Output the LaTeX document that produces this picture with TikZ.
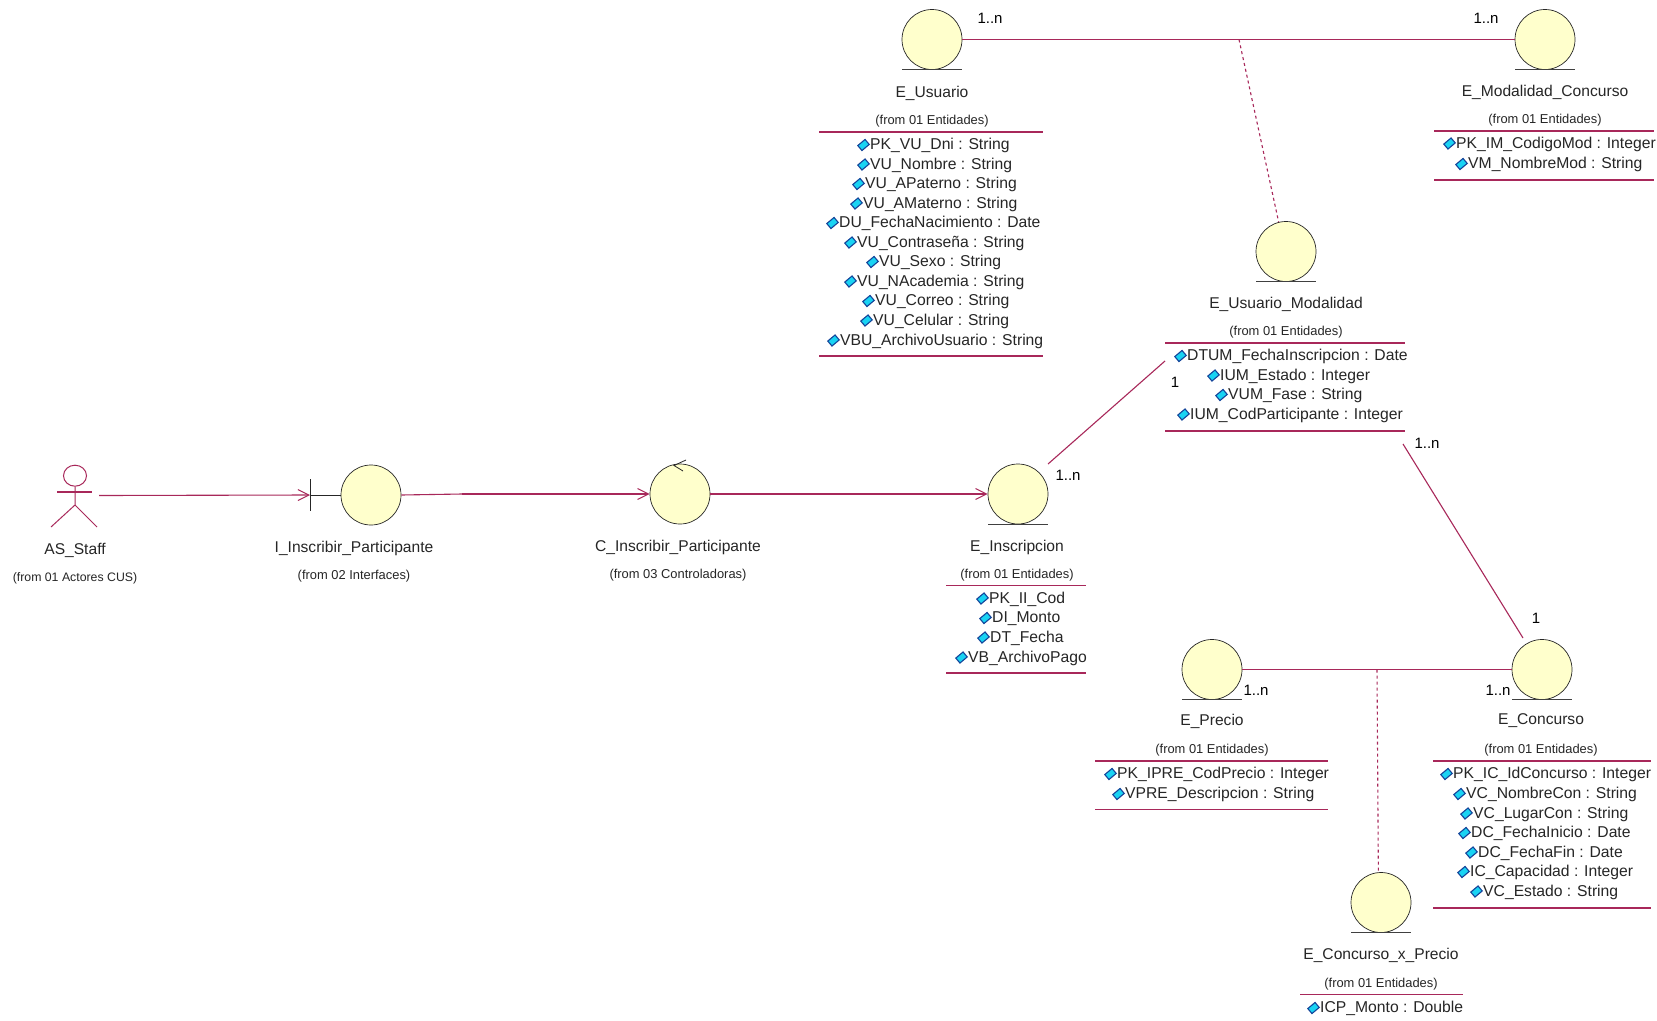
\documentclass[tikz,border=0pt]{standalone}
\usepackage{fontspec}
\setmainfont{Liberation Sans}
\usetikzlibrary{arrows.meta,shapes.geometric}
\definecolor{linkc}{HTML}{A8285A}
\definecolor{ballc}{HTML}{FFFFCC}
\definecolor{textc}{HTML}{262626}
\definecolor{iconc}{HTML}{19D3F3}
\definecolor{iconl}{HTML}{14449A}
\tikzset{
  ball/.style={circle,draw=black!85,line width=0.7pt,fill=ballc,minimum size=60pt,inner sep=0pt},
  ground/.style={draw=black!75,line width=0.9pt},
  title/.style={text=textc,font=\fontsize{15.6}{18}\selectfont,inner sep=0pt,anchor=center,yshift=-1pt},
  origin/.style={text=textc,font=\fontsize{12.9}{14}\selectfont,inner sep=0pt,anchor=center,yshift=-1pt},
  attrib/.style={text=textc,font=\fontsize{15.7}{18}\selectfont,inner sep=0pt,anchor=west,yshift=-1pt},
  icon/.style={draw=iconl,line width=1.1pt,fill=iconc,minimum width=9.5pt,minimum height=6.5pt,inner sep=0pt,rotate=40},
  mult/.style={text=black,font=\fontsize{15}{18}\selectfont,inner sep=0pt,anchor=center},
  rule/.style={draw=linkc,line width=1.1pt},
  link/.style={draw=linkc,line width=1.1pt},
  dashlink/.style={draw=linkc,line width=1.1pt,dash pattern=on 3pt off 3pt},
  flow/.style={draw=linkc,line width=1.1pt,-{Straight Barb[length=11pt,width=11pt,line width=1pt]}},
}
\newcommand{\attline}[4]{%
  \node[attrib] (#1) at (#2,#3) {#4};
  \node[icon] at ([xshift=-6.5pt,yshift=0.5pt]#1.west) {};
}
\newcommand{\entity}[3]{% name, x, y
  \node[ball] (#1) at (#2,#3) {};
  \draw[ground] ([xshift=-30pt]#1.south) -- ([xshift=30pt]#1.south);
}
\begin{document}
\begin{tikzpicture}[x=1pt,y=-1pt]
\useasboundingbox[fill=white] (0,0) rectangle (1657,1020);

% E_Usuario
\entity{eus}{932}{39.5}
\node[title] (eusT) at (932,92) {E\_Usuario};
\node[origin] (eusF) at (932,120) {(from 01 Entidades)};
\draw[rule] (819,132) -- (1043,132);
\attline{u1}{870}{144.5}{PK\_VU\_Dni : String}
\attline{u2}{870}{164}{VU\_Nombre : String}
\attline{u3}{865}{183.5}{VU\_APaterno : String}
\attline{u4}{863}{203}{VU\_AMaterno : String}
\attline{u5}{839}{222.5}{DU\_FechaNacimiento : Date}
\attline{u6}{857}{242}{VU\_Contraseña : String}
\attline{u7}{879}{261.5}{VU\_Sexo : String}
\attline{u8}{857}{281}{VU\_NAcademia : String}
\attline{u9}{875}{300.5}{VU\_Correo : String}
\attline{u10}{873}{320}{VU\_Celular : String}
\attline{u11}{840}{340}{VBU\_ArchivoUsuario : String}
\draw[rule] (819,356) -- (1043,356);

% E_Modalidad_Concurso
\entity{emod}{1545}{39.5}
\node[title] (emodT) at (1545,91) {E\_Modalidad\_Concurso};
\node[origin] (emodF) at (1545,119) {(from 01 Entidades)};
\draw[rule] (1434,131) -- (1654,131);
\attline{m1}{1456}{143}{PK\_IM\_CodigoMod : Integer}
\attline{m2}{1468}{163.5}{VM\_NombreMod : String}
\draw[rule] (1434,180) -- (1654,180);

% E_Usuario_Modalidad
\entity{eum}{1286}{251.5}
\node[title] (eumT) at (1286,303) {E\_Usuario\_Modalidad};
\node[origin] (eumF) at (1286,331) {(from 01 Entidades)};
\draw[rule] (1165,343) -- (1405,343);
\attline{a1}{1187}{355.5}{DTUM\_FechaInscripcion : Date}
\attline{a2}{1220}{375}{IUM\_Estado : Integer}
\attline{a3}{1228}{394.5}{VUM\_Fase : String}
\attline{a4}{1190}{414}{IUM\_CodParticipante : Integer}
\draw[rule] (1165,431) -- (1405,431);

% actor
\node[draw=linkc,line width=1pt,ellipse,minimum width=23pt,minimum height=21pt,inner sep=0pt] (actor) at (75,475.7) {};
\draw[link,line width=1pt] (actor.south) -- (75,505) -- (51,527);
\draw[link,line width=1pt] (75,505) -- (97,527);
\draw[link,line width=1.6pt] (57,491.7) -- (91.5,491.7);
\coordinate (actorR) at (99,495.5);
\node[title] (actorT) at (75,549) {AS\_Staff};
\node[origin,font=\fontsize{12.3}{14}\selectfont] (actorF) at (75,577.5) {(from 01 Actores CUS)};

% I_Inscribir_Participante
\node[ball,minimum size=60pt] (ifc) at (371,495) {};
\coordinate (ifcB) at (310,495);
\draw[black!85,line width=1pt] (310,479) -- (310,510.5);
\draw[black!85,line width=1pt] (ifcB) -- (ifc.west);
\node[title] (ifcT) at (354,547) {I\_Inscribir\_Participante};
\node[origin] (ifcF) at (354,575) {(from 02 Interfaces)};

% C_Inscribir_Participante
\node[ball,minimum size=60pt] (ctl) at (680,494) {};
\draw[black!85,line width=0.8pt] (683,471) -- (674,465.5) -- (686,460);
\node[title] (ctlT) at (678,546) {C\_Inscribir\_Participante};
\node[origin] (ctlF) at (678,574) {(from 03 Controladoras)};

% E_Inscripcion
\entity{eins}{1018}{494}
\node[title] (einsT) at (1017,546) {E\_Inscripcion};
\node[origin] (einsF) at (1017,574) {(from 01 Entidades)};
\draw[rule] (946,585.5) -- (1086,585.5);
\attline{i1}{989}{598}{PK\_II\_Cod}
\attline{i2}{992}{617.5}{DI\_Monto}
\attline{i3}{990}{637}{DT\_Fecha}
\attline{i4}{968}{657}{VB\_ArchivoPago}
\draw[rule] (946,673) -- (1086,673);

% E_Precio
\entity{epre}{1212}{669.5}
\node[title] (epreT) at (1212,720) {E\_Precio};
\node[origin] (epreF) at (1212,749) {(from 01 Entidades)};
\draw[rule] (1095,761) -- (1328,761);
\attline{p1}{1117}{773.5}{PK\_IPRE\_CodPrecio : Integer}
\attline{p2}{1125}{793.5}{VPRE\_Descripcion : String}
\draw[rule] (1095,809.5) -- (1328,809.5);

% E_Concurso
\entity{econ}{1542}{669.5}
\node[title] (econT) at (1541,720) {E\_Concurso};
\node[origin] (econF) at (1541,749) {(from 01 Entidades)};
\draw[rule] (1433,761) -- (1651,761);
\attline{c1}{1453}{773.5}{PK\_IC\_IdConcurso : Integer}
\attline{c2}{1466}{793.5}{VC\_NombreCon : String}
\attline{c3}{1473}{813}{VC\_LugarCon : String}
\attline{c4}{1471}{832.5}{DC\_FechaInicio : Date}
\attline{c5}{1478}{852}{DC\_FechaFin : Date}
\attline{c6}{1470}{871.5}{IC\_Capacidad : Integer}
\attline{c7}{1483}{891}{VC\_Estado : String}
\draw[rule] (1433,908) -- (1651,908);

% E_Concurso_x_Precio
\entity{ecp}{1381}{902.5}
\node[title] (ecpT) at (1381,954) {E\_Concurso\_x\_Precio};
\node[origin] (ecpF) at (1381,983) {(from 01 Entidades)};
\draw[rule] (1300,994.5) -- (1463,994.5);
\attline{x1}{1320}{1007.5}{ICP\_Monto : Double}

% connectors
\coordinate (assocU) at (1239,39.5);
\coordinate (assocP) at (1377,669.5);
\coordinate (bend) at (462,494);
\coordinate (eumL) at (1165,361);
\coordinate (einsE) at (1048,464);
\coordinate (eumB) at (1403,444);
\coordinate (econB) at (1523,638);
\draw[flow] (actorR) -- (ifcB);
\draw[link] (ifc.east) -- (bend);
\draw[flow] (bend) -- (ctl.west);
\draw[flow] (ctl.east) -- (eins.west);
\draw[link] (eus.east) -- (emod.west);
\draw[dashlink] (assocU) -- (eum.104);
\draw[link] (epre.east) -- (econ.west);
\draw[dashlink] (assocP) -- (ecp.95);
\draw[link] (einsE) -- (eumL);
\draw[link] (eumB) -- (econB);

% multiplicities
\node[mult] (m1a) at (990,18) {1..n};
\node[mult] (m1b) at (1486,18) {1..n};
\node[mult] (m2a) at (1175,382) {1};
\node[mult] (m2b) at (1068,475) {1..n};
\node[mult] (m3a) at (1427,443) {1..n};
\node[mult] (m3b) at (1536,618) {1};
\node[mult] (m4a) at (1256,690) {1..n};
\node[mult] (m4b) at (1498,690) {1..n};
\end{tikzpicture}
\end{document}
